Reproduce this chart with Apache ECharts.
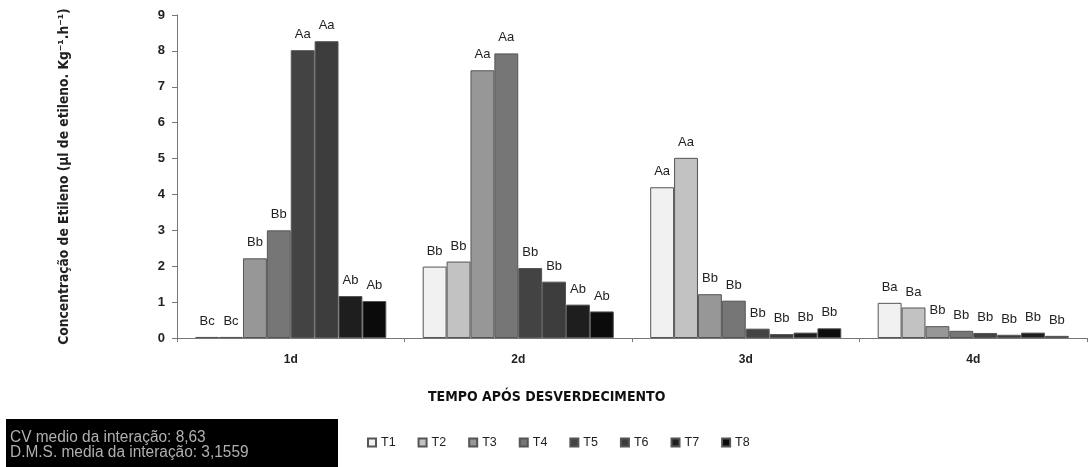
<!DOCTYPE html>
<html>
<head>
<meta charset="utf-8">
<script src="https://cdn.jsdelivr.net/npm/echarts@6/dist/echarts.min.js"></script>
<style>
  html, body { margin: 0; padding: 0; background: #fff; }
  #chart { width: 1088px; height: 467px; }
</style>
</head>
<body>
<div id="chart"></div>
<script>
// Days after degreening
const categories = ['1d', '2d', '3d', '4d'];
const treatments = ['T1', 'T2', 'T3', 'T4', 'T5', 'T6', 'T7', 'T8'];

// Ethylene concentration per treatment, one value per day
const T1 = [0.03, 1.99, 4.20, 0.98];
const T2 = [0.03, 2.13, 5.02, 0.85];
const T3 = [2.22, 7.46, 1.22, 0.33];
const T4 = [3.00, 7.93, 1.04, 0.20];
const T5 = [8.02, 1.95, 0.26, 0.14];
const T6 = [8.27, 1.57, 0.11, 0.09];
const T7 = [1.17, 0.93, 0.15, 0.15];
const T8 = [1.03, 0.74, 0.27, 0.06];

// Tukey letters shown above each bar
const L1 = ['Bc', 'Bb', 'Aa', 'Ba'];
const L2 = ['Bc', 'Bb', 'Aa', 'Ba'];
const L3 = ['Bb', 'Aa', 'Bb', 'Bb'];
const L4 = ['Bb', 'Aa', 'Bb', 'Bb'];
const L5 = ['Aa', 'Bb', 'Bb', 'Bb'];
const L6 = ['Aa', 'Bb', 'Bb', 'Bb'];
const L7 = ['Ab', 'Ab', 'Bb', 'Bb'];
const L8 = ['Ab', 'Ab', 'Bb', 'Bb'];

const yTicks = [0, 1, 2, 3, 4, 5, 6, 7, 8, 9];

const values = [T1, T2, T3, T4, T5, T6, T7, T8];
const letters = [L1, L2, L3, L4, L5, L6, L7, L8];
const fills = ['#f1f1f1', '#c2c2c2', '#979797', '#767676', '#434343', '#3c3c3c', '#1e1e1e', '#0b0b0b'];

const series = treatments.map((name, i) => ({
  name: name,
  type: 'bar',
  barGap: '0%',
  barCategoryGap: '16%',
  data: values[i],
  itemStyle: { color: fills[i], borderColor: '#555', borderWidth: 1 },
  label: {
    show: true,
    position: 'top',
    distance: 9,
    color: '#222',
    fontFamily: 'Liberation Sans, Arial, sans-serif',
    fontSize: 13,
    formatter: p => letters[i][p.dataIndex]
  }
}));

const narrow = '"Liberation Sans Narrow", "DejaVu Sans Condensed", Arial, sans-serif';

const chart = echarts.init(document.getElementById('chart'), null, { renderer: 'canvas' });
chart.setOption({
  animation: false,
  backgroundColor: '#fff',
  grid: { left: 177, right: 1, top: 15, bottom: 129, containLabel: false },
  xAxis: {
    type: 'category',
    data: categories,
    axisLine: { lineStyle: { color: '#777' } },
    axisTick: { show: true, alignWithLabel: false, length: 4, lineStyle: { color: '#777' } },
    axisLabel: {
      color: '#222', fontWeight: 'bold', fontSize: 12,
      fontFamily: 'Liberation Sans, Arial, sans-serif', margin: 16
    }
  },
  yAxis: {
    type: 'value',
    min: yTicks[0],
    max: yTicks[yTicks.length - 1],
    interval: 1,
    name: 'Concentração de Etileno (µl de etileno. Kg⁻¹.h⁻¹)',
    nameLocation: 'middle',
    nameGap: 106,
    nameTextStyle: {
      color: '#222', fontWeight: 'bold', fontSize: 13.7,
      fontFamily: narrow
    },
    splitLine: { show: false },
    axisLine: { show: true, lineStyle: { color: '#777' } },
    axisTick: { show: true, length: 5, lineStyle: { color: '#777' } },
    axisLabel: {
      color: '#222', fontWeight: 'bold', fontSize: 13,
      fontFamily: 'Liberation Sans, Arial, sans-serif', margin: 12
    }
  },
  legend: {
    data: treatments,
    left: 362,
    top: 431,
    icon: 'rect',
    itemWidth: 8,
    itemHeight: 8,
    itemGap: 22,
    textStyle: { color: '#222', fontSize: 12.5, fontFamily: 'Liberation Sans, Arial, sans-serif' }
  },
  graphic: [
    {
      type: 'text',
      left: 428,
      top: 390,
      style: {
        text: 'TEMPO APÓS DESVERDECIMENTO',
        fill: '#111',
        font: 'bold 14px ' + narrow
      }
    },
    {
      type: 'rect',
      shape: { x: 6, y: 419, width: 332, height: 48 },
      style: { fill: '#000' }
    },
    {
      type: 'text',
      x: 10,
      y: 430,
      scaleX: 0.965,
      style: {
        text: 'CV medio da interação: 8,63',
        fill: '#b0b0b0',
        font: '16px "Liberation Sans", Arial, sans-serif'
      }
    },
    {
      type: 'text',
      x: 10,
      y: 445,
      scaleX: 0.965,
      style: {
        text: 'D.M.S. media da interação: 3,1559',
        fill: '#b0b0b0',
        font: '16px "Liberation Sans", Arial, sans-serif'
      }
    }
  ],
  series: series
});
</script>
</body>
</html>
